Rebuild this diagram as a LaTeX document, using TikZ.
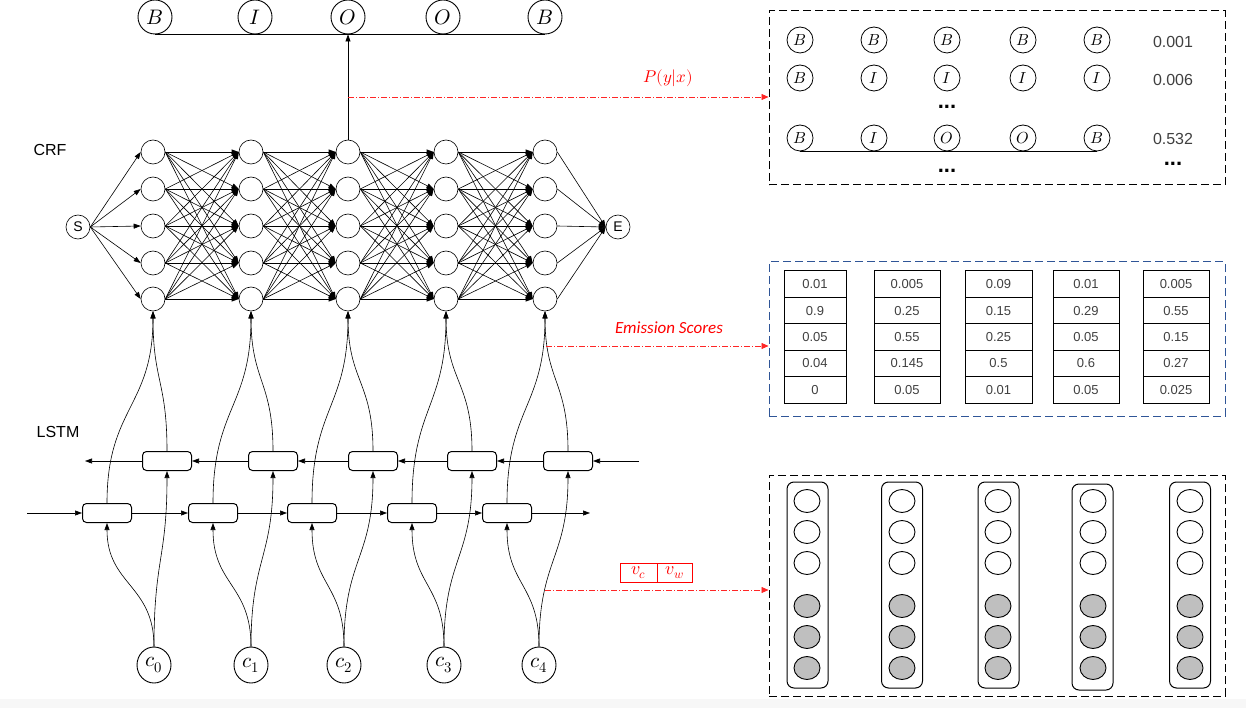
\documentclass[tikz,border=0pt]{standalone}
\usepackage{fontspec}
\usepackage{unicode-math}
\setmainfont{Liberation Sans}
\setmathfont{Latin Modern Math}
\newfontfamily\calib{Carlito}
\usetikzlibrary{arrows.meta,shapes.geometric,calc}
\definecolor{boxblue}{HTML}{2F5597}
\begin{document}
\begin{tikzpicture}[x=1pt,y=-1pt,
  tip/.style={-{Triangle[length=7pt,width=5pt]}},
  ln/.style={line width=0.6pt},
  tag/.style={circle,draw,line width=0.9pt,minimum size=34pt,inner sep=0pt,font=\fontsize{21}{21}\selectfont},
  crfn/.style={circle,draw,line width=0.6pt,minimum size=24pt,inner sep=0pt},
  se/.style={circle,draw,line width=0.6pt,minimum size=24pt,inner sep=0pt,font=\fontsize{14}{14}\selectfont},
  cellbox/.style={draw,rounded corners=4pt,line width=1pt,minimum width=49pt,minimum height=19pt,inner sep=0pt},
  chr/.style={ellipse,draw,line width=0.9pt,minimum width=34pt,minimum height=36pt,inner sep=0pt,font=\fontsize{21}{21}\selectfont},
  lbl/.style={font=\fontsize{16}{16}\selectfont},
  redarr/.style={red!85,line width=0.6pt,dash pattern=on 6pt off 2pt on 1pt off 2pt,-{Triangle[length=7pt,width=6pt]}},
  outer/.style={draw,line width=1pt,dash pattern=on 8pt off 4pt,minimum width=456pt,inner sep=0pt},
  sm/.style={circle,draw,line width=0.8pt,minimum size=26pt,inner sep=0pt,font=\fontsize{16}{16}\selectfont},
  num/.style={font=\fontsize{16}{16}\selectfont,text=black!75},
  dots/.style={font=\fontsize{22}{22}\selectfont\bfseries,inner sep=1pt},
  tbl/.style={draw,line width=1pt,minimum width=64pt,minimum height=26.4pt,inner sep=0pt,font=\fontsize{13}{13}\selectfont,text=black!75},
  colbox/.style={draw,rounded corners=7pt,line width=1pt,minimum width=41pt,minimum height=206pt,inner sep=0pt},
  emp/.style={ellipse,draw,line width=0.9pt,minimum width=26pt,minimum height=23pt,inner sep=0pt},
  full/.style={emp,fill=gray!50},
  vbox/.style={draw=red,line width=1pt,minimum height=19pt,inner sep=0pt,text=red,font=\fontsize{18}{18}\selectfont}
]
\useasboundingbox (0,0) rectangle (1246,708);
\fill[gray!6] (0,699) rectangle (1246,708);

% ---------- top tags ----------
\foreach \n/\x/\t in {1/155/B,2/255/I,3/348/O,4/443/O,5/545/B}
  \node[tag] (t\n) at (\x,17) {$\t$};
\draw[ln] (t1.south) -- (t5.south);

% ---------- CRF ----------
\node[lbl] (crflbl) at (50,150) {CRF};
\foreach \k/\x in {1/153,2/251,3/348,4/446,5/545}
  \foreach \i/\y in {1/152,2/189,3/226,4/263,5/299}
    \node[crfn] (n\k\i) at (\x,\y) {};
\node[se] (S) at (78,227) {S};
\node[se] (E) at (618,227) {E};
\foreach \i in {1,...,5} \draw[ln,tip] (S.east) -- (n1\i.west);
\foreach \k/\kk in {1/2,2/3,3/4,4/5}
  \foreach \i in {1,...,5}
    \foreach \j in {1,...,5}
      \draw[ln,tip] (n\k\i.east) -- (n\kk\j.west);
\foreach \i in {1,...,5} \draw[ln,tip] (n5\i.east) -- (E.west);
\draw[ln,tip] (n31.north) -- (t3.south);

% ---------- LSTM ----------
\node[lbl] (lstmlbl) at (58,432) {LSTM};
\foreach \k/\x in {1/167,2/273,3/373,4/472,5/568}
  \node[cellbox] (bw\k) at (\x,461) {};
\foreach \k/\x in {1/107,2/213,3/312,4/412,5/507}
  \node[cellbox] (fw\k) at (\x,513) {};
\coordinate (bwin) at (639,461);
\coordinate (bwout) at (85,461);
\coordinate (fwin) at (27,513);
\coordinate (fwout) at (590,513);
\draw[ln,tip] (bwin) -- (bw5.east);
\foreach \k/\kk in {5/4,4/3,3/2,2/1} \draw[ln,tip] (bw\k.west) -- (bw\kk.east);
\draw[ln,tip] (bw1.west) -- (bwout);
\draw[ln,tip] (fwin) -- (fw1.west);
\foreach \k/\kk in {1/2,2/3,3/4,4/5} \draw[ln,tip] (fw\k.east) -- (fw\kk.west);
\draw[ln,tip] (fw5.east) -- (fwout);

% ---------- characters ----------
\foreach \k/\x/\s in {1/154/0,2/251/1,3/344/2,4/444/3,5/539/4}
  \node[chr] (c\k) at (\x,665) {$c_{\s}$};

\foreach \k in {1,...,5}{
  \draw[ln,tip] (c\k.north) .. controls +(0,-62) and +(0,62) .. (fw\k.south);
  \draw[ln,tip] (c\k.north) .. controls +(0,-88) and +(0,88) .. (bw\k.south);
  \draw[ln,tip] (fw\k.north) .. controls +(0,-96) and +(0,96) .. (n\k5.south);
  \draw[ln,tip] (bw\k.north) .. controls +(0,-70) and +(0,70) .. (n\k5.south);
}

% ---------- right boxes ----------
\node[outer,minimum height=174pt] (boxA) at (997,98) {};
\node[outer,draw=boxblue,minimum height=154pt] (boxB) at (997,339) {};
\node[outer,minimum height=221pt] (boxC) at (997,585.5) {};

% box A content
\foreach \n/\x/\t in {1/800/B,2/874/B,3/947/B,4/1023/B,5/1097/B}
  \node[sm] (ra\n) at (\x,40) {$\t$};
\foreach \n/\x/\t in {1/800/B,2/874/I,3/947/I,4/1023/I,5/1097/I}
  \node[sm] (rb\n) at (\x,78) {$\t$};
\foreach \n/\x/\t in {1/800/B,2/874/I,3/947/O,4/1023/O,5/1097/B}
  \node[sm] (rc\n) at (\x,138) {$\t$};
\draw[ln] (rc1.south) -- (rc5.south);
\node[num] (pa1) at (1173,42) {0.001};
\node[num] (pa2) at (1173,80) {0.006};
\node[num] (pa3) at (1173,139) {0.532};
\node[dots] (d1) at (947,107) {...};
\node[dots] (d2) at (947,171) {...};
\node[dots] (d3) at (1173,164) {...};

% box B content
\foreach \k/\x/\w in {1/815/62,2/907/66,3/998.5/67,4/1086/66,5/1176/66}{
  \foreach \r/\y in {1/284.2,2/310.6,3/337,4/363.4,5/389.8}
    \node[tbl,minimum width=\w pt] (tb\k\r) at (\x,\y) {};
}
\foreach \k/\a/\b/\c/\d/\e in {1/0.01/0.9/0.05/0.04/0,2/0.005/0.25/0.55/0.145/0.05,3/0.09/0.15/0.25/0.5/0.01,4/0.01/0.29/0.05/0.6/0.05,5/0.005/0.55/0.15/0.27/0.025}{
  \node[font=\fontsize{13}{13}\selectfont,text=black!75] at (tb\k1) {\a};
  \node[font=\fontsize{13}{13}\selectfont,text=black!75] at (tb\k2) {\b};
  \node[font=\fontsize{13}{13}\selectfont,text=black!75] at (tb\k3) {\c};
  \node[font=\fontsize{13}{13}\selectfont,text=black!75] at (tb\k4) {\d};
  \node[font=\fontsize{13}{13}\selectfont,text=black!75] at (tb\k5) {\e};
}

% box C content
\foreach \k/\x/\y in {1/807.5/585,2/902/585,3/998.5/585,4/1092.5/587,5/1190/585}
  \node[colbox] (cb\k) at (\x,\y) {};
\foreach \k/\x in {1/807,2/902,3/998,4/1093,5/1190}{
  \node[emp] (e\k1) at (\x,501) {};
  \node[emp] (e\k2) at (\x,532) {};
  \node[emp] (e\k3) at (\x,563) {};
  \node[full] (e\k4) at (\x,606) {};
  \node[full] (e\k5) at (\x,637) {};
  \node[full] (e\k6) at (\x,668) {};
}

% ---------- red annotations ----------
\coordinate (pst) at (348,97);
\coordinate (est) at (546,346);
\coordinate (vst) at (545,590);
\draw[redarr] (pst) -- (boxA.west |- pst);
\draw[redarr] (est) -- (boxB.west |- est);
\draw[redarr] (vst) -- (boxC.west |- vst);
\node[text=red,font=\fontsize{17}{17}\selectfont] (plbl) at (668,78) {$P(y|x)$};
\node[text=red,font=\calib\itshape\fontsize{17}{17}\selectfont] (elbl) at (669,328) {Emission Scores};
\node[vbox,minimum width=37pt] (vc) at (638.5,572.5) {$v_c$};
\node[vbox,minimum width=35pt] (vw) at (674.5,572.5) {$v_w$};
\end{tikzpicture}
\end{document}
